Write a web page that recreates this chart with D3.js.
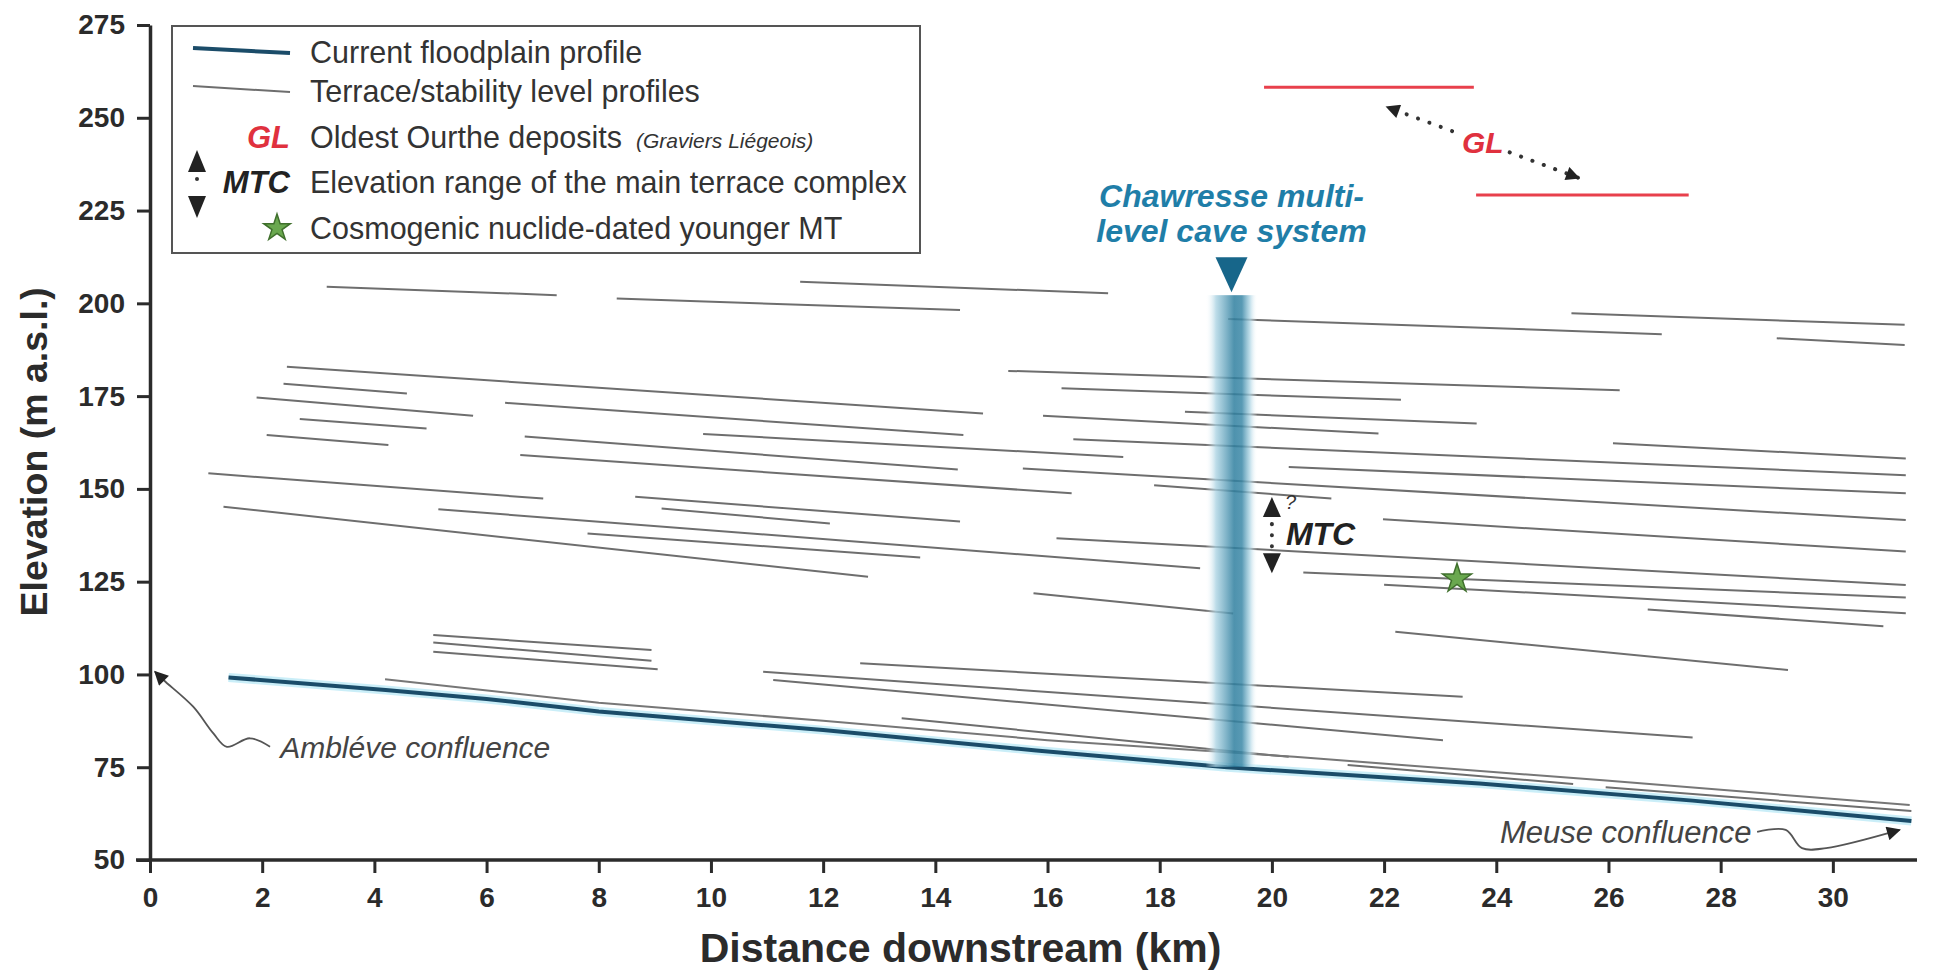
<!DOCTYPE html>
<html>
<head>
<meta charset="utf-8">
<script src="https://cdn.jsdelivr.net/npm/d3@7"></script>
<style>
  body { margin: 0; background: #fff; }
  svg text { font-family: "Liberation Sans", Arial, sans-serif; }
</style>
</head>
<body>
<div id="chart"></div>
<script>
// ---- data (km downstream, m a.s.l.) ----
const xTicks = d3.range(0, 31, 2);
const yTicks = d3.range(50, 276, 25);

const floodplainKm = [1.4, 4.2, 6.0, 8.0, 12.0, 15.8, 19.2, 23.7, 27.5, 31.4];
const floodplainElev = [99.2, 95.8, 93.4, 90.0, 85.0, 79.5, 75.0, 70.6, 66.0, 60.5];

// [start km, start elev, end km, end elev]
const terraceSegments = [
  [3.15, 204.5, 7.25, 202.2],
  [8.32, 201.3, 14.44, 198.2],
  [11.59, 205.8, 17.08, 202.7],
  [19.22, 195.8, 26.95, 191.7],
  [25.34, 197.3, 31.28, 194.2],
  [29.0, 190.6, 31.28, 188.8],
  [2.44, 182.9, 14.85, 170.3],
  [2.38, 178.3, 4.58, 175.7],
  [1.9, 174.6, 5.76, 169.7],
  [2.67, 168.8, 4.93, 166.3],
  [2.08, 164.5, 4.25, 161.8],
  [6.33, 173.2, 14.5, 164.5],
  [6.68, 164.1, 14.4, 155.2],
  [6.6, 159.1, 16.43, 148.8],
  [9.86, 164.8, 17.35, 158.6],
  [15.3, 181.8, 26.2, 176.6],
  [16.25, 177.1, 22.3, 174.0],
  [18.45, 170.8, 23.65, 167.6],
  [15.92, 169.7, 21.9, 164.9],
  [16.46, 163.4, 31.3, 153.7],
  [26.08, 162.3, 31.3, 158.2],
  [15.56, 155.5, 31.3, 141.6],
  [20.3, 155.9, 31.3, 148.8],
  [17.9, 151.0, 21.06, 147.4],
  [21.98, 141.8, 31.3, 133.1],
  [1.04, 154.2, 7.01, 147.4],
  [1.31, 145.2, 12.8, 126.3],
  [5.14, 144.5, 18.72, 128.6],
  [7.8, 138.0, 13.73, 131.5],
  [8.65, 147.9, 14.44, 141.2],
  [9.12, 144.7, 12.12, 140.7],
  [16.16, 136.7, 31.3, 124.1],
  [20.56, 127.5, 31.3, 120.7],
  [22.0, 124.2, 31.3, 116.5],
  [26.7, 117.5, 30.9, 113.0],
  [15.75, 121.9, 19.31, 116.4],
  [22.2, 111.5, 29.2, 101.2],
  [5.05, 110.6, 8.94, 106.6],
  [5.05, 108.6, 8.94, 103.7],
  [5.05, 106.1, 9.05, 101.4],
  [12.66, 103.0, 23.4, 94.0],
  [10.93, 100.7, 27.5, 83.0],
  [11.11, 98.5, 23.05, 82.3],
  [13.4, 88.2, 20.3, 77.8],
  [21.35, 75.6, 25.37, 70.5],
  [25.95, 69.6, 31.4, 63.2]
];
// long profile hugging the floodplain
const nearFloodplainKm = [4.19, 8.0, 12.0, 16.0, 20.4, 25.9, 31.37];
const nearFloodplainElev = [98.7, 92.4, 87.5, 82.3, 77.8, 71.5, 64.8];

// Graviers Liégeois levels: [start km, end km, elev]
const glLevels = [[19.86, 23.6, 258.2], [23.64, 27.43, 229.2]];
const glArrow = [[22.05, 252.9], [25.47, 233.8]];
const glLabel = [23.76, 240.5];

const cave = { km: 19.28, top: 202.2, bottom: 75.1 };
const mtc = { km: 20.0, top: 147.8, bottom: 127.3 };
const datedStar = [23.3, 125.8];

const ambleveArrow = [[2.14, 80.5], [1.78, 82.8], [1.37, 80.5], [1.13, 84.1], [0.77, 91.3], [0.24, 98.5], [0.09, 100.7]];
const ambleveLabel = [2.32, 77.4];
const meuseArrow = [[28.65, 57.6], [29.16, 58.1], [29.45, 53.2], [29.88, 53.2], [31.19, 58.1]];
const meuseLabel = [28.55, 54.6];

// ---- chart ----
const width = 1933, height = 973;
const svg = d3.select("#chart").append("svg")
  .attr("width", width).attr("height", height);

const x = d3.scaleLinear().domain([0, 31.5]).range([150, 1917]);
const y = d3.scaleLinear().domain([50, 275]).range([860, 25]);

const defs = svg.append("defs");
defs.append("marker")
  .attr("id", "head")
  .attr("viewBox", "0 0 10 10")
  .attr("refX", 9).attr("refY", 5)
  .attr("markerUnits", "userSpaceOnUse")
  .attr("markerWidth", 16).attr("markerHeight", 14)
  .attr("orient", "auto")
  .append("path").attr("d", "M0,0L10,5L0,10z").attr("fill", "#222");

const grad = defs.append("linearGradient").attr("id", "caveGrad")
  .attr("x1", "0%").attr("x2", "100%").attr("y1", "0%").attr("y2", "0%");
[[0, "#ffffff", 0], [0.2, "#a9d2e2", 0.9], [0.55, "#2f7f9f", 1], [0.7, "#3b88a7", 1], [0.85, "#a9d2e2", 0.9], [1, "#ffffff", 0]]
  .forEach(s => grad.append("stop").attr("offset", s[0]).attr("stop-color", s[1]).attr("stop-opacity", s[2]));

const line = d3.line().x(d => x(d[0])).y(d => y(d[1]));

// terrace profiles
svg.append("g").selectAll("path")
  .data(terraceSegments)
  .join("path")
  .attr("d", d => line([[d[0], d[1]], [d[2], d[3]]]))
  .attr("fill", "none")
  .attr("stroke", "#6e6e6e")
  .attr("stroke-width", 2);

svg.append("path")
  .attr("d", line(nearFloodplainKm.map((k, i) => [k, nearFloodplainElev[i]])))
  .attr("fill", "none").attr("stroke", "#777").attr("stroke-width", 2);

// current floodplain
const flood = floodplainKm.map((k, i) => [k, floodplainElev[i]]);
svg.append("path").attr("d", line(flood))
  .attr("fill", "none").attr("stroke", "#a6e2f3").attr("stroke-width", 9).attr("stroke-opacity", 0.6);
svg.append("path").attr("d", line(flood))
  .attr("fill", "none").attr("stroke", "#1b4c69").attr("stroke-width", 4);

// cave column
svg.append("rect")
  .attr("x", x(cave.km) - 26).attr("width", 52)
  .attr("y", y(cave.top)).attr("height", y(cave.bottom) - y(cave.top))
  .attr("fill", "url(#caveGrad)").attr("opacity", 0.85);
svg.append("path")
  .attr("d", `M${x(cave.km) - 16},${y(cave.top) - 38}L${x(cave.km) + 16},${y(cave.top) - 38}L${x(cave.km)},${y(cave.top) - 3}Z`)
  .attr("fill", "#17668a");
svg.append("text")
  .attr("x", x(cave.km)).attr("y", y(cave.top) - 88)
  .attr("text-anchor", "middle")
  .attr("font-size", 32).attr("font-weight", "bold").attr("font-style", "italic")
  .attr("fill", "#1f7ea8")
  .selectAll("tspan")
  .data(["Chawresse multi-", "level cave system"])
  .join("tspan")
  .attr("x", x(cave.km)).attr("dy", (d, i) => i ? 35 : 0)
  .text(d => d);

// GL levels
svg.append("g").selectAll("line")
  .data(glLevels)
  .join("line")
  .attr("x1", d => x(d[0])).attr("x2", d => x(d[1]))
  .attr("y1", d => y(d[2])).attr("y2", d => y(d[2]))
  .attr("stroke", "#e8404c").attr("stroke-width", 3);

const glDir = [glArrow[1][0] - glArrow[0][0], glArrow[1][1] - glArrow[0][1]];
const glAt = t => [glArrow[0][0] + glDir[0] * t, glArrow[0][1] + glDir[1] * t];
[[0.34, 0], [0.64, 1]].forEach(([a, b]) => {
  svg.append("path")
    .attr("d", line([glAt(a), glAt(b)]))
    .attr("stroke", "#333").attr("stroke-width", 4).attr("stroke-linecap", "round")
    .attr("stroke-dasharray", "0.1 12").attr("fill", "none")
    .attr("marker-end", "url(#head)");
});
svg.append("text")
  .attr("x", x(glLabel[0])).attr("y", y(glLabel[1]))
  .attr("text-anchor", "middle")
  .attr("font-size", 30).attr("font-weight", "bold").attr("font-style", "italic")
  .attr("fill", "#e0313e").text("GL");

// MTC range
function vArrow(g, cx, tipY, dir, hw, h) {
  g.append("path")
    .attr("d", `M${cx},${tipY}L${cx - hw},${tipY + dir * h}L${cx + hw},${tipY + dir * h}Z`)
    .attr("fill", "#222");
}
const mtcG = svg.append("g");
vArrow(mtcG, x(mtc.km), y(mtc.top), 1, 9, 20);
vArrow(mtcG, x(mtc.km), y(mtc.bottom), -1, 9, 20);
mtcG.append("line")
  .attr("x1", x(mtc.km)).attr("x2", x(mtc.km))
  .attr("y1", y(mtc.top) + 27).attr("y2", y(mtc.bottom) - 24)
  .attr("stroke", "#333").attr("stroke-width", 4).attr("stroke-linecap", "round")
  .attr("stroke-dasharray", "0.1 11");
mtcG.append("text")
  .attr("x", x(mtc.km) + 13).attr("y", y(mtc.top) + 12)
  .attr("font-size", 20).attr("font-style", "italic").attr("fill", "#333").text("?");
mtcG.append("text")
  .attr("x", x(mtc.km) + 14).attr("y", y(135))
  .attr("font-size", 32).attr("font-weight", "bold").attr("font-style", "italic")
  .attr("fill", "#222").text("MTC");

// dated terrace star
svg.append("path")
  .attr("transform", `translate(${x(datedStar[0])},${y(datedStar[1])})`)
  .attr("d", d3.symbol(d3.symbolStar, 260)())
  .attr("fill", "#6aa84f").attr("stroke", "#3f6f2c").attr("stroke-width", 1.5);

// confluence annotations
const curve = d3.line().x(d => x(d[0])).y(d => y(d[1])).curve(d3.curveCatmullRom);
svg.append("path").attr("d", curve(ambleveArrow))
  .attr("fill", "none").attr("stroke", "#555").attr("stroke-width", 1.8)
  .attr("marker-end", "url(#head)");
svg.append("text")
  .attr("x", x(ambleveLabel[0])).attr("y", y(ambleveLabel[1]))
  .attr("font-size", 30).attr("font-style", "italic").attr("fill", "#444")
  .text("Ambléve confluence");
svg.append("path").attr("d", curve(meuseArrow))
  .attr("fill", "none").attr("stroke", "#555").attr("stroke-width", 1.8)
  .attr("marker-end", "url(#head)");
svg.append("text")
  .attr("x", x(meuseLabel[0])).attr("y", y(meuseLabel[1]))
  .attr("text-anchor", "end")
  .attr("font-size", 31).attr("font-style", "italic").attr("fill", "#444")
  .text("Meuse confluence");

// axes
const xAxis = d3.axisBottom(x).tickValues(xTicks).tickSize(13).tickSizeOuter(0).tickPadding(14);
const yAxis = d3.axisLeft(y).tickValues(yTicks).tickSize(13).tickSizeOuter(0).tickPadding(12);

const gx = svg.append("g").attr("transform", `translate(0,${y(50)})`).call(xAxis);
const gy = svg.append("g").attr("transform", `translate(${x(0)},0)`).call(yAxis);
[gx, gy].forEach(g => {
  g.select(".domain").attr("stroke", "#2b2b2b").attr("stroke-width", 3.5);
  g.selectAll(".tick line").attr("stroke", "#2b2b2b").attr("stroke-width", 3);
  g.selectAll(".tick text")
    .attr("font-size", 28).attr("font-weight", "bold").attr("fill", "#2b2b2b")
    .style("font-family", "'Liberation Sans', Arial, sans-serif");
});
gx.select(".domain").attr("d", `M${x(0) - 14},0H${x(31.5)}`);

svg.append("text")
  .attr("x", x(14.45)).attr("y", 962)
  .attr("text-anchor", "middle")
  .attr("font-size", 41).attr("font-weight", "bold").attr("fill", "#2b2b2b")
  .text("Distance downstream (km)");
svg.append("text")
  .attr("transform", `translate(47,${y(160)}) rotate(-90)`)
  .attr("text-anchor", "middle")
  .attr("font-size", 37.5).attr("font-weight", "bold").attr("fill", "#2b2b2b")
  .text("Elevation (m a.s.l.)");

// legend
const lg = svg.append("g");
lg.append("rect")
  .attr("x", 172).attr("y", 26).attr("width", 748).attr("height", 227)
  .attr("fill", "#fff").attr("stroke", "#555").attr("stroke-width", 2);
const legendRows = [
  "Current floodplain profile",
  "Terrace/stability level profiles",
  "Oldest Ourthe deposits",
  "Elevation range of the main terrace complex",
  "Cosmogenic nuclide-dated younger MT"
];
const rowY = [63, 102, 148, 193, 239];
const rowText = lg.selectAll("text.row")
  .data(legendRows)
  .join("text")
  .attr("class", "row")
  .attr("x", 310).attr("y", (d, i) => rowY[i])
  .attr("font-size", 30.5).attr("fill", "#333")
  .text(d => d);
const oldestEnd = 310 + rowText.nodes()[2].getComputedTextLength();
lg.append("text")
  .attr("x", oldestEnd + 14).attr("y", rowY[2])
  .attr("font-size", 21).attr("font-style", "italic").attr("fill", "#333")
  .text("(Graviers Liégeois)");
lg.append("line").attr("x1", 193).attr("y1", 48).attr("x2", 290).attr("y2", 53)
  .attr("stroke", "#1b4c69").attr("stroke-width", 4);
lg.append("line").attr("x1", 193).attr("y1", 86).attr("x2", 290).attr("y2", 92)
  .attr("stroke", "#6e6e6e").attr("stroke-width", 2);
lg.append("text").attr("x", 290).attr("y", rowY[2]).attr("text-anchor", "end")
  .attr("font-size", 31).attr("font-weight", "bold").attr("font-style", "italic")
  .attr("fill", "#e0313e").text("GL");
lg.append("text").attr("x", 290).attr("y", rowY[3]).attr("text-anchor", "end")
  .attr("font-size", 31).attr("font-weight", "bold").attr("font-style", "italic")
  .attr("fill", "#222").text("MTC");
vArrow(lg, 197, 150, 1, 9, 22);
vArrow(lg, 197, 218, -1, 9, 22);
lg.append("line").attr("x1", 197).attr("x2", 197).attr("y1", 179).attr("y2", 188)
  .attr("stroke", "#333").attr("stroke-width", 4).attr("stroke-linecap", "round")
  .attr("stroke-dasharray", "0.1 9");
lg.append("path")
  .attr("transform", "translate(277,228)")
  .attr("d", d3.symbol(d3.symbolStar, 220)())
  .attr("fill", "#6aa84f").attr("stroke", "#3f6f2c").attr("stroke-width", 1.5);
</script>
</body>
</html>
